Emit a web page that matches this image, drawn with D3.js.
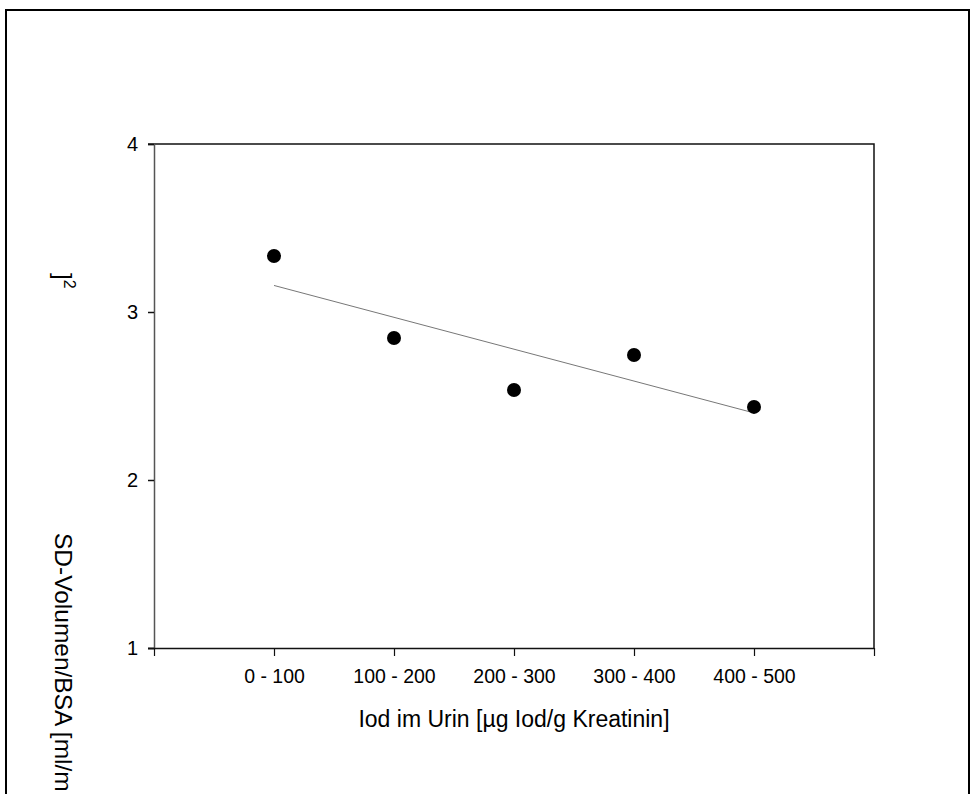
<!DOCTYPE html>
<html>
<head>
<meta charset="utf-8">
<script src="https://cdn.jsdelivr.net/npm/d3@7"></script>
<style>
  html, body { margin: 0; padding: 0; background: #fff; }
  svg { display: block; font-family: "Liberation Sans", Arial, sans-serif; }
</style>
</head>
<body>
<svg id="chart" width="973" height="794"></svg>
<script>
// Iodine excretion classes and mean thyroid volume per body surface area
const categories = ["0 - 100", "100 - 200", "200 - 300", "300 - 400", "400 - 500"];
const volumes = [3.333, 2.845, 2.536, 2.744, 2.435];
const yTicks = [1, 2, 3, 4];
const xTitle = "Iod im Urin [µg Iod/g Kreatinin]";
const yTitle = "SD-Volumen/BSA [ml/m";

const svg = d3.select("#chart");

// outer figure frame
svg.append("rect")
  .attr("x", 6).attr("y", 10)
  .attr("width", 963).attr("height", 800)
  .attr("fill", "none").attr("stroke", "#000").attr("stroke-width", 2);

const plot = { left: 154, right: 874, top: 144, bottom: 648 };

// categories sit at positions 1..5 on a 0..6 axis
const x = d3.scaleLinear().domain([0, categories.length + 1]).range([plot.left, plot.right]);
const y = d3.scaleLinear().domain([1, 4]).range([plot.bottom, plot.top]);

// plot frame (top and right)
svg.append("path")
  .attr("d", `M${plot.left - 6},${plot.top}H${plot.right}V${plot.bottom}`)
  .attr("fill", "none").attr("stroke", "#111").attr("stroke-width", 1.5);

// y axis
const yAxis = d3.axisLeft(y).tickValues(yTicks).tickSize(6).tickPadding(10).tickFormat(d3.format("d"));
const gy = svg.append("g").attr("transform", `translate(${plot.left},0)`).call(yAxis);
gy.select(".domain").attr("stroke", "#555").attr("stroke-width", 1.5);
gy.selectAll(".tick line").attr("stroke", "#111").attr("stroke-width", 1.5);
gy.selectAll(".tick text").attr("font-size", 20).attr("fill", "#000")
  .attr("font-family", "Liberation Sans, Arial, sans-serif");

// x axis: ticks at every position, labels only at the categories
const xAxis = d3.axisBottom(x)
  .tickValues(d3.range(0, categories.length + 2))
  .tickSize(8).tickPadding(13)
  .tickFormat(d => (d >= 1 && d <= categories.length) ? categories[d - 1] : "");
const gx = svg.append("g").attr("transform", `translate(0,${plot.bottom})`).call(xAxis);
gx.select(".domain").attr("d", `M${plot.left - 6},0.5H${plot.right}`)
  .attr("stroke", "#111").attr("stroke-width", 1.5);
gx.selectAll(".tick line").attr("stroke", "#111").attr("stroke-width", 1.2);
gx.selectAll(".tick text").attr("font-size", 19.5).attr("fill", "#000")
  .attr("font-family", "Liberation Sans, Arial, sans-serif");

// axis titles
svg.append("text")
  .attr("x", (plot.left + plot.right) / 2).attr("y", 727)
  .attr("text-anchor", "middle").attr("font-size", 23).attr("fill", "#000")
  .text(xTitle);

svg.append("text")
  .attr("transform", "translate(55,533) rotate(90)")
  .attr("font-size", 24.5).attr("fill", "#000")
  .text(yTitle);

const unitTail = svg.append("text")
  .attr("transform", "translate(55,273) rotate(90)")
  .attr("font-size", 24).attr("fill", "#000");
unitTail.append("tspan").text("]");
unitTail.append("tspan").attr("dy", -9).attr("font-size", 16).text("2");

// linear regression over category positions
const pts = volumes.map((v, i) => ({ xi: i + 1, v }));
const mx = d3.mean(pts, d => d.xi), my = d3.mean(pts, d => d.v);
const slope = d3.sum(pts, d => (d.xi - mx) * (d.v - my)) / d3.sum(pts, d => (d.xi - mx) ** 2);
const intercept = my - slope * mx;
const x0 = 1, x1 = categories.length;
svg.append("line")
  .attr("x1", x(x0)).attr("y1", y(intercept + slope * x0))
  .attr("x2", x(x1)).attr("y2", y(intercept + slope * x1))
  .attr("stroke", "#777").attr("stroke-width", 1);

// data points
svg.append("g").selectAll("circle")
  .data(pts).join("circle")
  .attr("cx", d => x(d.xi)).attr("cy", d => y(d.v))
  .attr("r", 7).attr("fill", "#000");
</script>
</body>
</html>
